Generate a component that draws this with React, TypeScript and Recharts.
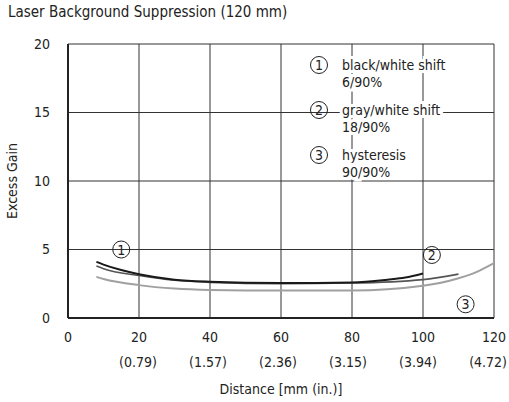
import { LineChart, Line, XAxis, YAxis, CartesianGrid, ReferenceDot, Customized } from 'recharts';

const FONT = "'DejaVu Sans Condensed', 'DejaVu Sans', sans-serif";

// distance ticks (mm) and their inch equivalents
const xTicks = [0, 20, 40, 60, 80, 100, 120];
const inchLabels = ['', '(0.79)', '(1.57)', '(2.36)', '(3.15)', '(3.94)', '(4.72)'];
const yTicks = [0, 5, 10, 15, 20];

// 1: black/white shift 6/90%
const blackWhite = [
  { x: 8, y: 4.1 }, { x: 10, y: 3.9 }, { x: 15, y: 3.5 }, { x: 20, y: 3.2 }, { x: 30, y: 2.8 },
  { x: 40, y: 2.65 }, { x: 60, y: 2.55 }, { x: 80, y: 2.6 }, { x: 90, y: 2.8 }, { x: 95, y: 2.95 },
  { x: 100, y: 3.25 },
];
// 2: gray/white shift 18/90%
const grayWhite = [
  { x: 8, y: 3.8 }, { x: 10, y: 3.6 }, { x: 20, y: 3.1 }, { x: 30, y: 2.75 }, { x: 40, y: 2.6 },
  { x: 60, y: 2.5 }, { x: 80, y: 2.55 }, { x: 100, y: 2.8 }, { x: 110, y: 3.2 },
];
// 3: hysteresis 90/90%
const hysteresis = [
  { x: 8, y: 3.0 }, { x: 10, y: 2.85 }, { x: 20, y: 2.4 }, { x: 30, y: 2.15 }, { x: 40, y: 2.05 },
  { x: 60, y: 2.0 }, { x: 80, y: 2.0 }, { x: 100, y: 2.35 }, { x: 110, y: 2.9 }, { x: 115, y: 3.35 },
  { x: 120, y: 4.0 },
];

// curve markers
const markers = [
  { n: '1', x: 15, y: 5 },
  { n: '2', x: 102.5, y: 4.6 },
  { n: '3', x: 112, y: 1.0 },
];

const legendItems = [
  { n: '1', l1: 'black/white shift', l2: '6/90%' },
  { n: '2', l1: 'gray/white shift', l2: '18/90%' },
  { n: '3', l1: 'hysteresis', l2: '90/90%' },
];

function Circled({ cx, cy, n }: { cx: number; cy: number; n: string }) {
  return (
    <g>
      <circle cx={cx} cy={cy} r={8.5} fill="none" stroke="#222" strokeWidth={1} />
      <text x={cx} y={cy + 5} textAnchor="middle" fontSize={14} fontFamily={FONT} fill="#222">{n}</text>
    </g>
  );
}

function XTick(props: any) {
  const { x, y, payload, index } = props;
  const i = xTicks.indexOf(payload.value);
  const last = i === xTicks.length - 1;
  return (
    <g key={index}>
      <text x={x} y={y + 16} textAnchor="middle" fontSize={14} fontFamily={FONT} fill="#222">{payload.value}</text>
      <text x={last ? x + 13 : x - i} y={y + 41} textAnchor={last ? 'end' : 'middle'} fontSize={14} fontFamily={FONT} fill="#222">{inchLabels[i]}</text>
    </g>
  );
}

function Legend() {
  return (
    <g fontFamily={FONT} fontSize={14} fill="#222">
      {legendItems.map((it, i) => {
        const top = 65 + i * 45;
        return (
          <g key={it.n}>
            <text x={342} y={top + 5} stroke="#fff" strokeWidth={6} style={{ paintOrder: 'stroke' }}>{it.l1}</text>
            <text x={342} y={top + 22} stroke="#fff" strokeWidth={6} style={{ paintOrder: 'stroke' }}>{it.l2}</text>
            <Circled cx={319} cy={top} n={it.n} />
          </g>
        );
      })}
    </g>
  );
}

export default function App() {
  return (
    <div style={{ position: 'absolute', left: 0, top: 0, width: 509, height: 402, background: '#fff' }}>
      <div style={{ position: 'absolute', left: 8, top: 3, fontFamily: FONT, fontSize: 15, color: '#222' }}>
        Laser Background Suppression (120 mm)
      </div>
      <LineChart width={509} height={402} margin={{ top: 44, right: 15, bottom: 0, left: 0 }}>
        <CartesianGrid stroke="#333" strokeWidth={1} />
        <XAxis
          type="number"
          dataKey="x"
          domain={[0, 120]}
          ticks={xTicks}
          tick={<XTick />}
          tickLine={false}
          axisLine={{ stroke: '#222', strokeWidth: 2 }}
          height={84}
          label={{ value: 'Distance [mm (in.)]', position: 'insideBottom', offset: 8, fontSize: 14, fontFamily: FONT, fill: '#222' }}
        />
        <YAxis
          type="number"
          domain={[0, 20]}
          ticks={yTicks}
          tickLine={false}
          axisLine={{ stroke: '#222', strokeWidth: 2 }}
          width={68}
          tickMargin={12}
          tick={{ fontSize: 14, fontFamily: FONT, fill: '#222' }}
          label={{ value: 'Excess Gain', angle: -90, position: 'insideLeft', offset: 12, fontSize: 14, fontFamily: FONT, fill: '#222', style: { textAnchor: 'middle' } }}
        />
        <Line data={hysteresis} dataKey="y" type="monotone" stroke="#a0a0a0" strokeWidth={2} dot={false} isAnimationActive={false} />
        <Line data={grayWhite} dataKey="y" type="monotone" stroke="#555" strokeWidth={1.6} dot={false} isAnimationActive={false} />
        <Line data={blackWhite} dataKey="y" type="monotone" stroke="#1a1a1a" strokeWidth={2} dot={false} isAnimationActive={false} />
        {markers.map((m) => (
          <ReferenceDot key={m.n} x={m.x} y={m.y} r={8.5} shape={(p: any) => <Circled cx={p.cx} cy={p.cy} n={m.n} />} />
        ))}
        <Customized component={<Legend />} />
      </LineChart>
    </div>
  );
}
